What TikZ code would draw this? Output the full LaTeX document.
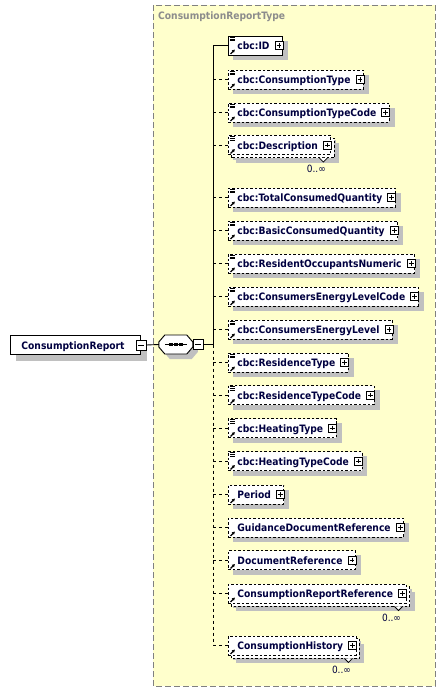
\documentclass[tikz,border=0pt]{standalone}
\usepackage{fontspec}
\newfontfamily\lab{DejaVu Sans Condensed}
\usetikzlibrary{arrows.meta}
\definecolor{txt}{RGB}{0,0,64}
\definecolor{yel}{RGB}{255,255,204}
\definecolor{shdc}{RGB}{192,192,192}
\definecolor{brd}{RGB}{128,128,128}
\definecolor{ttl}{RGB}{140,140,140}
\pgfdeclarelayer{ylayer}
\pgfdeclarelayer{slayer}
\pgfsetlayers{ylayer,slayer,main}
\tikzset{
  elembox/.style={draw=black, fill=white, line width=0.9pt, font=\lab\bfseries\fontsize{10.2}{12}\selectfont,
    text=txt, minimum height=19pt, inner xsep=0pt, inner ysep=0pt, text height=8.5pt, text depth=0pt, anchor=west},
  opt/.style={dash pattern=on 2.5pt off 2pt},
  conn/.style={line width=0.9pt},
  optconn/.style={line width=0.9pt, dash pattern=on 3pt off 3pt},
  plusbox/.style={draw=black, solid, fill=white, line width=0.7pt, minimum size=8pt, inner sep=0pt, anchor=center,
    path picture={\draw[line width=0.7pt] ([xshift=1.6pt]path picture bounding box.west) -- ([xshift=-1.6pt]path picture bounding box.east)
      ([yshift=-1.6pt]path picture bounding box.north) -- ([yshift=1.6pt]path picture bounding box.south);}},
  minusbox/.style={draw=black, solid, fill=white, line width=0.7pt, minimum size=10pt, inner sep=0pt, anchor=center,
    path picture={\draw[line width=0.7pt] ([xshift=2pt]path picture bounding box.west) -- ([xshift=-2pt]path picture bounding box.east);}},
  iconline/.style={line width=0.8pt, black},
  arricon/.style={line width=1.3pt, black, -{Latex[length=3pt,width=3.6pt]}},
  mult/.style={font=\lab\fontsize{10}{12}\selectfont, text=txt, inner sep=0pt, anchor=center},
  shadowfill/.style={fill=shdc},
}
\newcommand\elem[5]{%
  \node[elembox,#4] (#1) at (228,#2) {\kern9pt #3\kern13pt};
  \node[plusbox] (#1p) at ([xshift=-4pt]#1.east) {};
  \begin{pgfonlayer}{slayer}
    \fill[shadowfill] ([shift={(5,5)}]#1.south west) rectangle ([shift={(5,5)}]#1.north east);
  \end{pgfonlayer}
  \draw[arricon] ([shift={(2.5,-1.5)}]#1.south west) -- ([shift={(7,-6)}]#1.south west);
  \ifnum#5=1
    \draw[iconline] ([shift={(1.8,1.6)}]#1.north west) -- ++(5.5,0)
      ([shift={(1.8,3.4)}]#1.north west) -- ++(5.5,0)
      ([shift={(1.8,5.2)}]#1.north west) -- ++(5.5,0);
  \fi
}
\newcommand\multi[1]{%
  \begin{pgfonlayer}{slayer}
    \fill[shadowfill] ([shift={(8,8)}]#1.south west) rectangle ([shift={(8,8)}]#1.north east);
    \draw[line width=0.9pt, opt, fill=white] ([shift={(3,3)}]#1.south west) rectangle ([shift={(3,3)}]#1.north east);
  \end{pgfonlayer}
  \draw[line width=0.8pt, fill=white] ([shift={(-12,3)}]#1.south east) -- ++(4,4) -- ++(4,-4);
  \node[mult] (#1m) at ([shift={(-15,14)}]#1.south east) {0..∞};
}
\begin{document}
\begin{tikzpicture}[x=1pt,y=-1pt]
\useasboundingbox (0,0) rectangle (445,692);
% complex type area
\begin{pgfonlayer}{ylayer}
  \fill[yel] (153,5) rectangle (435,686);
  \draw[brd, line width=0.9pt, dash pattern=on 6pt off 3pt] (153,5) rectangle (435,686);
\end{pgfonlayer}
\node[font=\lab\bfseries\fontsize{10.2}{12}\selectfont, text=ttl, anchor=base west, inner sep=0pt] (ttl) at (158,20) {ConsumptionReportType};

% root element
\node[elembox] (cr) at (10,345) {\kern11pt ConsumptionReport\kern16pt};
\begin{pgfonlayer}{slayer}
  \fill[shadowfill] ([shift={(6,6)}]cr.south west) rectangle ([shift={(6,6)}]cr.north east);
\end{pgfonlayer}
\node[minusbox] (crm) at (cr.east) {};

% sequence
\node[minimum width=34pt, minimum height=19pt, inner sep=0pt] (seq) at (176,344.5) {};
\begin{pgfonlayer}{slayer}
  \fill[shadowfill] ([shift={(5,5)}]seq.west) ++(0,-2.5) -- ++(6,-7) -- ++(22,0) -- ++(6,7) -- ++(0,5) -- ++(-6,7) -- ++(-22,0) -- ++(-6,-7) -- cycle;
\end{pgfonlayer}
\draw[line width=0.9pt, fill=white] (seq.west) ++(0,-2.5) -- ++(6,-7) -- ++(22,0) -- ++(6,7) -- ++(0,5) -- ++(-6,7) -- ++(-22,0) -- ++(-6,-7) -- cycle;
\draw[line width=1pt] ([xshift=-11pt]seq.center) -- ([xshift=11pt]seq.center);
\foreach \dx in {-5,0,5} \fill ([xshift=\dx pt]seq.center) ++(-1.6,-1.6) rectangle ++(3.2,3.2);
\node[minusbox] (seqm) at (198,344.5) {};
\draw[conn] (crm.east) -- (seq.west);

% spine
\coordinate (st) at (213,45.5);
\coordinate (sm) at (213,344.5);
\coordinate (sb) at (213,645.5);
\draw[conn] (seqm.east) -- (sm);
\draw[conn] (st) -- (sm);
\draw[optconn] (sm) -- (sb);

% children
\elem{id}{45.5}{cbc:ID}{solid}{1}
\elem{ctype}{79.5}{cbc:ConsumptionType}{opt}{1}
\elem{ctcode}{112.5}{cbc:ConsumptionTypeCode}{opt}{1}
\elem{desc}{145}{cbc:Description}{opt}{1}
\multi{desc}
\elem{tcq}{197.5}{cbc:TotalConsumedQuantity}{opt}{1}
\elem{bcq}{230.5}{cbc:BasicConsumedQuantity}{opt}{1}
\elem{ron}{263.5}{cbc:ResidentOccupantsNumeric}{opt}{1}
\elem{celc}{296.5}{cbc:ConsumersEnergyLevelCode}{opt}{1}
\elem{cel}{329.5}{cbc:ConsumersEnergyLevel}{opt}{1}
\elem{rt}{362.5}{cbc:ResidenceType}{opt}{1}
\elem{rtc}{395}{cbc:ResidenceTypeCode}{opt}{1}
\elem{ht}{428}{cbc:HeatingType}{opt}{1}
\elem{htc}{461}{cbc:HeatingTypeCode}{opt}{1}
\elem{per}{494.5}{Period}{opt}{0}
\elem{gdr}{527.5}{GuidanceDocumentReference}{opt}{0}
\elem{dr}{560}{DocumentReference}{opt}{0}
\elem{crr}{593.5}{ConsumptionReportReference}{opt}{0}
\multi{crr}
\elem{ch}{645.5}{ConsumptionHistory}{opt}{0}
\multi{ch}

% connectors
\draw[conn] (st) -- (id.west);
\foreach \n in {ctype,ctcode,desc,tcq,bcq,ron,celc,cel,rt,rtc,ht,htc,per,gdr,dr,crr,ch}
  \draw[optconn] (\n.west -| st) -- (\n.west);
\end{tikzpicture}
\end{document}
